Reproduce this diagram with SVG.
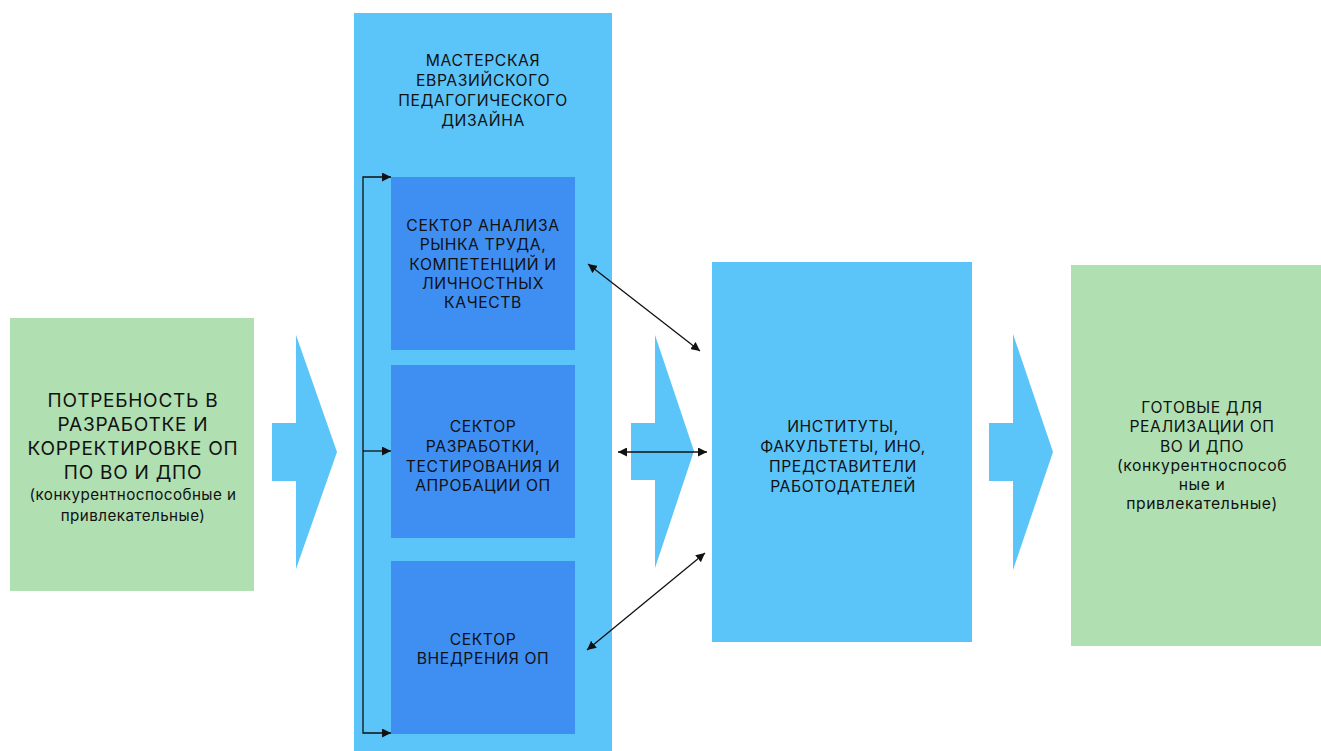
<svg xmlns="http://www.w3.org/2000/svg" width="1321" height="751" viewBox="0 0 1321 751">
<defs>
<marker id="ah" viewBox="0 0 10 10" refX="10" refY="5" markerWidth="9" markerHeight="9" markerUnits="userSpaceOnUse" orient="auto-start-reverse">
<path d="M0,0 L10,5 L0,10 z" fill="#111"/>
</marker>
</defs>
<style>
.green{fill:#b0dfb2}
.lb{fill:#5bc4f8}
.db{fill:#3f8ff3}
.chev{fill:#5bc4f8}
text{font-family:Inter,"Noto Sans","Liberation Sans",sans-serif;fill:#111;text-anchor:middle}
.big{font-size:19px;letter-spacing:0.75px}
.mid{font-size:15.7px;letter-spacing:0.6px}
.sm{font-size:15.2px;letter-spacing:0.45px}
.ln{stroke:#111;stroke-width:1.3;fill:none}
</style>
<rect width="1321" height="751" fill="#fff"/>
<g id="need">
<rect class="green" x="10" y="318" width="244" height="273"/>
<text class="big"><tspan x="133" y="407">ПОТРЕБНОСТЬ В</tspan><tspan x="133" y="431">РАЗРАБОТКЕ И</tspan><tspan x="133" y="455">КОРРЕКТИРОВКЕ ОП</tspan><tspan x="133" y="479">ПО ВО И ДПО</tspan></text>
<text class="sm"><tspan x="133" y="500">(конкурентноспособные и</tspan><tspan x="133" y="521">привлекательные)</tspan></text>
</g>
<g id="arrow1"><polygon class="chev" points="272,423 296,423 296,335 337,452 296,569 296,481 272,481"/></g>
<g id="workshop">
<rect class="lb" x="354" y="13" width="258" height="738"/>
<text class="mid"><tspan x="483" y="66">МАСТЕРСКАЯ</tspan><tspan x="483" y="86">ЕВРАЗИЙСКОГО</tspan><tspan x="483" y="106">ПЕДАГОГИЧЕСКОГО</tspan><tspan x="483" y="126">ДИЗАЙНА</tspan></text>
</g>
<g id="sector1">
<rect class="db" x="391" y="177" width="184" height="173"/>
<text class="mid"><tspan x="483" y="231">СЕКТОР АНАЛИЗА</tspan><tspan x="483" y="250">РЫНКА ТРУДА,</tspan><tspan x="483" y="270">КОМПЕТЕНЦИЙ И</tspan><tspan x="483" y="289">ЛИЧНОСТНЫХ</tspan><tspan x="483" y="308">КАЧЕСТВ</tspan></text>
</g>
<g id="sector2">
<rect class="db" x="391" y="365" width="184" height="173"/>
<text class="mid"><tspan x="483" y="432">СЕКТОР</tspan><tspan x="483" y="452">РАЗРАБОТКИ,</tspan><tspan x="483" y="472">ТЕСТИРОВАНИЯ И</tspan><tspan x="483" y="491">АПРОБАЦИИ ОП</tspan></text>
</g>
<g id="sector3">
<rect class="db" x="391" y="561" width="184" height="173"/>
<text class="mid"><tspan x="483" y="645">СЕКТОР</tspan><tspan x="483" y="664">ВНЕДРЕНИЯ ОП</tspan></text>
</g>
<g id="arrow2"><polygon class="chev" points="631,423 655,423 655,335 694,451 655,568 655,480 631,480"/></g>
<g id="institutes">
<rect class="lb" x="712" y="262" width="260" height="380"/>
<text class="mid"><tspan x="843" y="432">ИНСТИТУТЫ,</tspan><tspan x="843" y="452">ФАКУЛЬТЕТЫ, ИНО,</tspan><tspan x="843" y="472">ПРЕДСТАВИТЕЛИ</tspan><tspan x="843" y="492">РАБОТОДАТЕЛЕЙ</tspan></text>
</g>
<g id="arrow3"><polygon class="chev" points="989,423 1013,423 1013,334 1053,452 1013,570 1013,481 989,481"/></g>
<g id="ready">
<rect class="green" x="1071" y="265" width="250" height="381"/>
<text class="mid"><tspan x="1202" y="413">ГОТОВЫЕ ДЛЯ</tspan><tspan x="1202" y="432">РЕАЛИЗАЦИИ ОП</tspan><tspan x="1202" y="452">ВО И ДПО</tspan><tspan x="1202" y="471">(конкурентноспособ</tspan><tspan x="1202" y="490">ные и</tspan><tspan x="1202" y="509">привлекательные)</tspan></text>
</g>
<g id="connectors">
<path class="ln" d="M391,177 L363,177 L363,733 L391,733" marker-start="url(#ah)" marker-end="url(#ah)"/>
<line class="ln" x1="363" y1="451" x2="391" y2="451" marker-end="url(#ah)"/>
<line class="ln" x1="618" y1="452" x2="707" y2="452" marker-start="url(#ah)" marker-end="url(#ah)"/>
<line class="ln" x1="588" y1="264" x2="700" y2="351" marker-start="url(#ah)" marker-end="url(#ah)"/>
<line class="ln" x1="587" y1="650" x2="705" y2="553" marker-start="url(#ah)" marker-end="url(#ah)"/>
</g>
</svg>
